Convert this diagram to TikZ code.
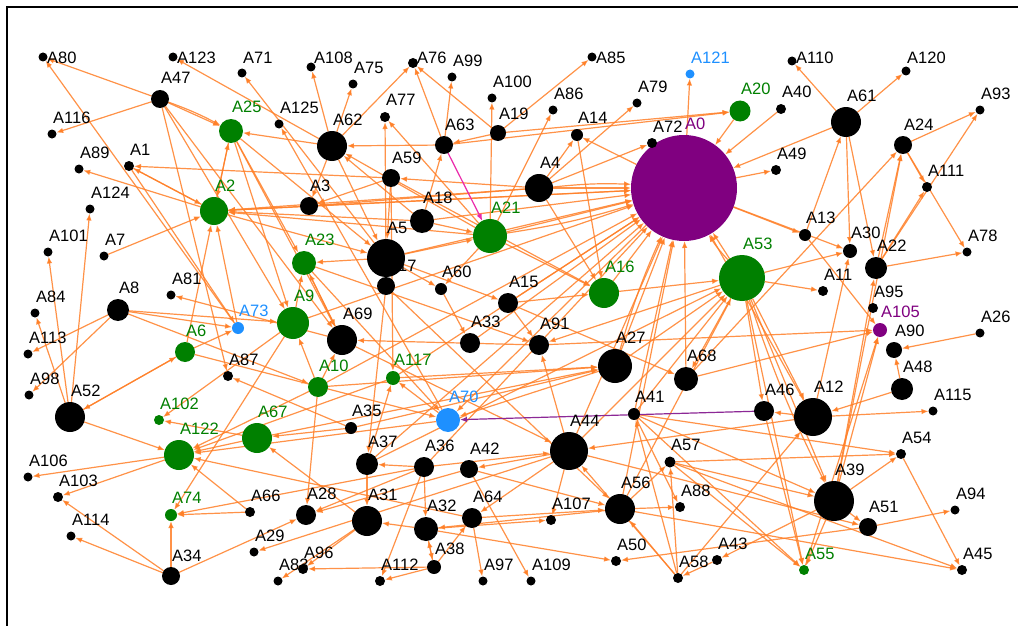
\documentclass[tikz,border=0pt]{standalone}
\usepackage{fontspec}
\setmainfont{Liberation Sans}
\usetikzlibrary{arrows.meta}
\definecolor{ngreen}{RGB}{0,128,0}
\definecolor{nblue}{RGB}{30,144,255}
\definecolor{npurple}{RGB}{128,0,128}
\definecolor{eorange}{RGB}{255,128,40}
\definecolor{emag}{RGB}{235,40,170}
\definecolor{epurp}{RGB}{140,40,150}
\begin{document}
\begin{tikzpicture}[x=1pt,y=-1pt,
  vtx/.style={circle, inner sep=0pt, outer sep=0pt},
  edge/.style={draw=eorange, line width=1.2pt, draw opacity=0.85, -{Latex[length=7pt,width=5.5pt]}},
  lbl/.style={anchor=base west, inner sep=0pt, font=\fontsize{16.5}{17}\selectfont}]
\fill[white] (0,0) rectangle (1018,626);
\useasboundingbox (0,0) rectangle (1018,626);
\draw[line width=2pt] (7,626) -- (7,7) -- (1018,7);
\def\nodelist{A0/684/188/53/npurple/1, A1/129/166/5/black/1, A2/214/211/14/ngreen/1, A3/309/206/9/black/1, A4/539/188/14/black/1, A5/386/258/19/black/1, A6/185/352/10/ngreen/1, A7/104/256/4.5/black/1, A8/118/310/11/black/1, A9/293/323/16/ngreen/1, A10/318/387/10/ngreen/1, A11/823/291/5/black/1, A12/813/417/19/black/1, A13/805/235/6/black/1, A14/577/135/6/black/1, A15/508/303/10/black/1, A16/604/293/15/ngreen/1, A17/386/286/9/black/1, A18/422/221/12/black/1, A19/498/133/8/black/1, A20/740/111/10.5/ngreen/1, A21/490/236/17/ngreen/1, A22/876/268/11/black/1, A23/304/263/12/ngreen/1, A24/903/145/9/black/1, A25/231/131/12/ngreen/1, A26/980/333/4.5/black/1, A27/615/366/17/black/1, A28/306/515/10/black/1, A29/254/552/4.5/black/1, A30/850/251/7/black/1, A31/367/521/15/black/1, A32/426/529/12/black/1, A33/470/343/10/black/1, A34/171/576/9/black/1, A35/351/428/6/black/1, A36/424/467/10/black/1, A37/367/464/11/black/1, A38/434/567/7/black/1, A39/834/501/20/black/1, A40/781/109/5/black/1, A41/634/414/6/black/1, A42/469/469/9/black/1, A43/717/560/5/black/1, A44/569/451/19/black/1, A45/962/570/5/black/1, A46/764/411/10/black/1, A47/160/99/9/black/1, A48/902/389/11/black/1, A49/776/170/5/black/1, A50/616/561/5/black/1, A51/868/527/9/black/1, A52/70/417/15/black/1, A53/742/278/23/ngreen/1, A54/901/454/5/black/1, A55/804/570/5/ngreen/1, A56/620/509/15/black/1, A57/670/462/5.5/black/1, A58/678/578/5/black/1, A59/391/178/9/black/1, A60/441/289/6/black/1, A61/846/122/15/black/1, A62/332/146/15/black/1, A63/444/145/9/black/1, A64/472/518/10/black/1, A66/250/512/5/black/1, A67/257/438/15/ngreen/1, A68/686/379/12/black/1, A69/342/340/15/black/1, A70/448/420/12/nblue/1, A71/242/73/4.5/black/1, A72/652/143/5/black/1, A73/238/328/6/nblue/1, A74/171/515/6/ngreen/1, A75/353/84/4.5/black/1, A76/413/63/5/black/4, A77/385/117/5/black/1, A78/967/252/4.5/black/1, A79/637/103/4.5/black/1, A80/43/57/4.5/black/4, A81/171/295/4.5/black/1, A83/278/581/4.5/black/1, A84/35/313/4.5/black/1, A85/592/57/4.5/black/4, A86/553/110/4.5/black/1, A87/228/376/5/black/1, A88/680/507/5/black/1, A89/79/169/4.5/black/1, A90/894/350/8/black/1, A91/539/345/10/black/1, A93/980/110/4.5/black/1, A94/955/510/4.5/black/1, A95/873/308/5/black/1, A96/303/569/5/black/1, A97/483/581/4.5/black/1, A98/29/395/4.5/black/1, A99/452/77/4.5/black/1, A100/492/98/4.5/black/1, A101/48/252/4.5/black/1, A102/159/420/5/ngreen/1, A103/58/497/5/black/1, A105/880/330/7/npurple/1, A106/28/477/4.5/black/1, A107/551/520/5/black/1, A108/311/67/4.5/black/3, A109/531/581/4.5/black/1, A110/792/61/4.5/black/4, A111/927/187/5/black/1, A112/380/581/5/black/1, A113/28/354/4.5/black/1, A114/71/536/4.5/black/1, A115/933/411/4.5/black/1, A116/52/134/4.5/black/1, A117/393/378/7/ngreen/1, A120/906/71/4.5/black/1, A121/690/74/4.5/nblue/1, A122/179/455/15/ngreen/1, A123/173/57/4.5/black/4, A124/90/209/4.5/black/1, A125/279/124/4.5/black/1}
% invisible vertex shapes
\foreach \n/\x/\y/\r/\c/\d in \nodelist {
  \node[vtx, minimum size={2*\r pt}] (\n) at (\x,\y) {};
}
% edges
\foreach \s/\t in {A47/A80, A47/A116, A47/A25, A47/A87, A47/A69, A47/A9,
 A62/A123, A73/A80, A5/A71, A62/A108, A62/A75, A62/A76, A62/A3, A62/A25, A62/A5,
 A63/A62, A18/A62, A21/A62, A63/A76, A63/A99, A19/A76, A19/A63, A18/A63, A19/A85,
 A19/A20, A63/A20, A21/A100, A21/A86, A21/A77, A5/A77, A70/A125,
 A4/A59, A59/A1, A59/A3, A59/A5, A59/A117, A59/A16,
 A4/A3, A4/A2, A21/A2, A18/A2, A3/A2,
 A1/A2, A2/A1, A1/A73, A2/A25, A25/A2, A2/A89, A7/A2, A6/A2, A73/A2, A2/A5,
 A52/A124, A52/A101, A52/A84, A8/A113, A8/A98, A52/A6, A6/A52, A52/A122,
 A8/A73, A8/A9, A8/A10, A69/A81, A35/A87, A6/A73, A6/A70,
 A9/A102, A67/A102, A122/A106, A122/A103, A34/A103, A34/A114, A34/A74, A34/A28,
 A66/A74, A36/A74, A9/A74, A10/A122, A117/A122, A66/A122, A67/A122, A64/A122, A70/A122,
 A25/A5, A25/A69, A25/A23, A25/A9,
 A5/A23, A9/A23, A23/A69, A69/A23, A23/A91, A23/A70,
 A91/A69, A10/A69, A10/A9, A70/A117, A37/A117,
 A5/A60, A21/A60, A5/A21, A18/A21, A5/A15, A60/A33,
 A21/A16, A15/A16, A4/A16, A14/A16,
 A4/A14, A0/A14, A4/A72, A4/A79, A0/A121,
 A61/A110, A61/A120, A61/A0, A40/A0, A0/A49, A20/A0, A13/A61, A61/A30, A61/A22,
 A0/A13, A0/A30, A53/A30, A53/A11,
 A22/A24, A24/A93, A24/A111, A24/A78, A22/A111, A22/A93, A22/A78, A68/A24, A39/A22,
 A13/A105, A91/A105, A68/A105, A39/A105, A55/A105,
 A26/A90, A48/A90, A48/A12, A12/A115, A12/A46, A12/A44, A12/A30, A12/A0,
 A53/A46, A53/A12, A53/A39, A53/A55, A53/A68, A53/A91, A46/A55,
 A39/A54, A41/A54, A57/A54, A54/A45, A39/A51, A44/A51, A51/A94, A51/A50,
 A56/A45, A57/A45, A57/A55, A41/A55, A39/A55, A41/A39, A57/A39, A39/A43, A39/A24,
 A43/A58, A58/A57, A58/A56, A58/A44, A58/A41, A58/A12,
 A56/A57, A56/A88, A41/A88, A42/A56, A64/A56, A56/A32, A56/A53, A56/A0,
 A32/A107, A44/A107, A42/A109, A32/A50,
 A36/A44, A69/A44, A44/A42, A44/A64, A17/A56, A17/A37, A44/A91,
 A38/A112, A38/A96, A38/A32, A32/A38, A38/A64, A36/A32, A36/A112, A32/A31, A37/A31,
 A31/A83, A31/A96, A42/A28, A36/A28, A10/A28, A35/A67, A31/A67, A44/A29, A64/A97,
 A36/A37, A15/A91, A15/A68, A27/A70, A0/A70, A27/A53, A16/A53, A41/A53, A44/A53, A37/A53,
 A10/A27, A117/A27, A35/A27, A67/A27,
 A4/A0, A21/A0, A18/A0, A2/A0, A3/A0, A5/A0, A15/A0, A16/A0, A27/A0, A44/A0, A41/A0,
 A68/A0, A53/A0, A10/A0, A117/A0, A36/A0, A33/A0, A9/A0, A37/A0}
 { \draw[edge] (\s) -- (\t); }
\draw[edge] (A47) to[bend left=4] (A25);
\draw[edge] (A4) to[bend left=4] (A0);
\draw[edge] (A21) to[bend right=4] (A0);
\draw[edge] (A27) to[bend left=4] (A0);
\draw[edge] (A53) to[bend left=5] (A0);
\draw[edge] (A53) to[bend right=4] (A39);
\draw[edge, draw=emag, draw opacity=1] (A63) -- (A21);
\draw[edge, draw=epurp, draw opacity=1] (A46) -- (A70);
% labels
\foreach \n/\x/\y/\r/\c/\d in \nodelist {
  \pgfmathsetmacro\by{max(\y-\r-6,64)}
  \node[lbl, text=\c] at ({\x+\d},\by) {\n};
}
% vertex fills on top
\foreach \n/\x/\y/\r/\c/\d in \nodelist {
  \fill[\c] (\n.center) circle [radius=\r pt];
}
\end{tikzpicture}
\end{document}
